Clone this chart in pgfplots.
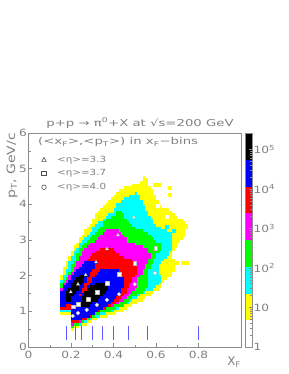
\documentclass[border=0pt]{standalone}
\usepackage{pgfplots}
\usepackage{pgfplotstable}
\pgfplotsset{compat=1.18}
\usepackage{fontspec}
\setmainfont{DejaVu Sans}
\newfontfamily\wa[FakeStretch=1.22]{DejaVu Sans}
\newfontfamily\wb[FakeStretch=1.4]{DejaVu Sans}
\definecolor{txt}{gray}{0.5}
\definecolor{frm}{gray}{0.55}
\definecolor{tickblue}{RGB}{90,90,255}
\definecolor{hy}{RGB}{255,255,0}
\definecolor{hc}{RGB}{0,255,255}
\definecolor{hg}{RGB}{0,255,0}
\definecolor{hm}{RGB}{255,0,255}
\definecolor{hr}{RGB}{255,0,0}
\definecolor{hb}{RGB}{0,0,255}
\pgfplotstableread{
y a b
0.45 0.2 0.2125
0.525 0.2 0.2375
0.6 0.2 0.275
0.675 0.2 0.3
0.75 0.2 0.325
0.825 0.2 0.375
0.9 0.15 0.4125
0.975 0.15 0.45
1.05 0.15 0.4625
1.125 0.15 0.4875
1.2 0.15 0.5125
1.275 0.15 0.5375
1.35 0.15 0.55
1.425 0.15 0.575
1.5 0.15 0.5875
1.575 0.15 0.6125
1.65 0.15 0.625
1.725 0.15 0.625
1.8 0.15 0.6375
1.875 0.15 0.65
1.95 0.15 0.675
2.025 0.1625 0.675
2.1 0.1625 0.6875
2.175 0.1625 0.6875
2.25 0.175 0.6875
2.325 0.175 0.6875
2.4 0.1875 0.6875
2.475 0.1875 0.675
2.55 0.2 0.675
2.625 0.2 0.675
2.7 0.2125 0.6875
2.775 0.2125 0.7
2.85 0.225 0.7
2.925 0.2375 0.7125
3.0 0.2375 0.725
3.075 0.25 0.7375
3.15 0.2625 0.7375
3.225 0.2625 0.7375
3.3 0.275 0.75
3.375 0.2875 0.75
3.45 0.3 0.7375
3.525 0.3 0.725
3.6 0.3125 0.7
3.675 0.3125 0.6875
3.75 0.325 0.675
3.825 0.3375 0.6625
3.9 0.35 0.625
3.975 0.3625 0.6125
4.05 0.375 0.6125
4.125 0.3875 0.6
4.2 0.4 0.6
4.275 0.4125 0.5875
4.35 0.425 0.5875
4.425 0.45 0.575
4.5 0.4875 0.5625
4.575 0.525 0.5625
4.65 0.5375 0.5625
4.725 0.5375 0.55
}\tabY
\pgfplotstableread{
y a b
0.525 0.2 0.2125
0.6 0.2 0.25
0.675 0.2 0.275
0.75 0.2 0.3
0.825 0.2 0.3375
0.9 0.2 0.3625
0.975 0.15 0.4
1.05 0.15 0.425
1.125 0.15 0.45
1.2 0.15 0.475
1.275 0.15 0.4875
1.35 0.15 0.5125
1.425 0.15 0.525
1.5 0.15 0.55
1.575 0.15 0.5875
1.65 0.15 0.6
1.725 0.15 0.6125
1.8 0.15 0.625
1.875 0.1625 0.625
1.95 0.1625 0.625
2.025 0.175 0.6125
2.1 0.175 0.6125
2.175 0.1875 0.6125
2.25 0.1875 0.6125
2.325 0.1875 0.625
2.4 0.2 0.6375
2.475 0.2 0.65
2.55 0.2125 0.6625
2.625 0.2125 0.6625
2.7 0.225 0.675
2.775 0.2375 0.675
2.85 0.2375 0.675
2.925 0.25 0.675
3.0 0.2625 0.675
3.075 0.275 0.675
3.15 0.2875 0.675
3.225 0.3 0.65
3.3 0.3 0.625
3.375 0.3125 0.6
3.45 0.325 0.5875
3.525 0.35 0.5875
3.6 0.3625 0.575
3.675 0.375 0.5625
3.75 0.4 0.5625
3.825 0.4 0.55
3.9 0.4125 0.55
3.975 0.4125 0.5375
4.05 0.4375 0.5375
4.125 0.45 0.525
4.2 0.475 0.525
4.275 0.5 0.5125
}\tabC
\pgfplotstableread{
y a b
0.525 0.2 0.2125
0.6 0.2 0.2375
0.675 0.2 0.2625
0.75 0.2 0.2875
0.825 0.2 0.3125
0.9 0.2 0.3375
0.975 0.2 0.3875
1.05 0.15 0.4125
1.125 0.15 0.45
1.2 0.15 0.4625
1.275 0.15 0.475
1.35 0.15 0.4875
1.425 0.15 0.5125
1.5 0.15 0.5375
1.575 0.15 0.55
1.65 0.15 0.5625
1.725 0.15 0.5625
1.8 0.1625 0.5625
1.875 0.175 0.5625
1.95 0.1875 0.5625
2.025 0.1875 0.5625
2.1 0.2 0.5625
2.175 0.2 0.575
2.25 0.2 0.575
2.325 0.2125 0.5875
2.4 0.225 0.5875
2.475 0.225 0.6
2.55 0.225 0.6
2.625 0.2375 0.6125
2.7 0.2375 0.625
2.775 0.25 0.625
2.85 0.2625 0.625
2.925 0.275 0.6
3.0 0.2875 0.5875
3.075 0.3 0.575
3.15 0.3125 0.5625
3.225 0.325 0.5375
3.3 0.3375 0.5
3.375 0.35 0.4875
3.45 0.35 0.475
3.525 0.3625 0.4625
3.6 0.3875 0.45
3.675 0.4125 0.45
3.75 0.4125 0.4375
}\tabG
\pgfplotstableread{
y a b
0.6 0.2 0.2125
0.675 0.2 0.25
0.75 0.2 0.2625
0.825 0.2 0.2875
0.9 0.2 0.3125
0.975 0.2 0.3375
1.05 0.15 0.3625
1.125 0.15 0.4
1.2 0.15 0.425
1.275 0.15 0.45
1.35 0.15 0.4625
1.425 0.15 0.475
1.5 0.15 0.4875
1.575 0.15 0.5
1.65 0.1625 0.5125
1.725 0.1625 0.5125
1.8 0.175 0.5125
1.875 0.1875 0.5125
1.95 0.1875 0.525
2.025 0.2 0.5375
2.1 0.2125 0.5375
2.175 0.2125 0.55
2.25 0.225 0.55
2.325 0.225 0.5625
2.4 0.2375 0.5625
2.475 0.2375 0.575
2.55 0.25 0.575
2.625 0.25 0.5625
2.7 0.2625 0.5625
2.775 0.275 0.5375
2.85 0.2875 0.5
2.925 0.3125 0.4625
3.0 0.325 0.4625
3.075 0.3375 0.45
3.15 0.35 0.4375
3.225 0.3625 0.425
}\tabM
\pgfplotstableread{
y a b
0.675 0.2 0.2375
0.75 0.2 0.275
0.825 0.2 0.3
0.9 0.2 0.3125
0.975 0.2 0.3375
1.05 0.15 0.3625
1.125 0.15 0.3875
1.2 0.15 0.4125
1.275 0.15 0.425
1.35 0.15 0.4375
1.425 0.15 0.45
1.5 0.1625 0.4625
1.575 0.175 0.4625
1.65 0.175 0.475
1.725 0.1875 0.475
1.8 0.1875 0.4875
1.875 0.2 0.4875
1.95 0.2125 0.5
2.025 0.2125 0.5125
2.1 0.225 0.5125
2.175 0.2375 0.5125
2.25 0.25 0.5125
2.325 0.2625 0.5125
2.4 0.275 0.4875
2.475 0.2875 0.45
2.55 0.3 0.425
2.625 0.3125 0.4125
2.7 0.3375 0.4
}\tabR
\pgfplotstableread{
y a b
1.125 0.15 0.175
1.2 0.15 0.2125
1.275 0.15 0.225
1.35 0.15 0.2375
1.425 0.15 0.2375
1.5 0.15 0.25
1.575 0.1625 0.25
1.65 0.1625 0.2625
1.725 0.175 0.2625
1.8 0.1875 0.275
1.875 0.2 0.275
1.95 0.2 0.2875
2.025 0.2125 0.2875
2.1 0.225 0.3
2.175 0.2375 0.3125
2.25 0.25 0.3125
2.325 0.2625 0.325
}\tabBa
\pgfplotstableread{
y a b
0.75 0.2 0.25
0.825 0.2 0.2875
0.9 0.2 0.3125
0.975 0.2 0.325
1.05 0.2 0.35
1.125 0.2 0.375
1.2 0.2125 0.3875
1.275 0.225 0.4
1.35 0.2375 0.4125
1.425 0.25 0.425
1.5 0.2625 0.4375
1.575 0.275 0.4375
1.65 0.275 0.45
1.725 0.2875 0.45
1.8 0.3 0.45
1.875 0.3 0.45
1.95 0.3125 0.4375
2.025 0.325 0.425
2.1 0.3375 0.425
}\tabBb
\pgfplotstableread{
y a b
1.275 0.175 0.2
1.35 0.175 0.2
1.425 0.175 0.2125
1.5 0.175 0.225
1.575 0.1875 0.2375
1.65 0.2 0.2375
1.725 0.2 0.25
1.8 0.2125 0.2625
1.875 0.225 0.2625
1.95 0.2375 0.275
}\tabKa
\pgfplotstableread{
y a b
1.125 0.2375 0.2875
1.2 0.2375 0.3
1.275 0.25 0.325
1.35 0.25 0.3375
1.425 0.2625 0.35
1.5 0.2625 0.3625
1.575 0.275 0.375
1.65 0.2875 0.375
1.725 0.3125 0.375
}\tabKb
\newcommand{\cells}[2]{\addplot[draw=none,mark=none,error bars/.cd,x dir=both,x explicit,error mark=none,error bar style={draw=#2,line width=2.72bp,line cap=butt}] table[y expr=\thisrow{y}+0.0375,x expr=(\thisrow{a}+\thisrow{b})/2,x error expr=(\thisrow{b}-\thisrow{a})/2] {#1};}
\pgfplotsset{
  rootstyle/.style={
    scale only axis,
    axis line style={frm,line width=0.7bp},
    tick style={frm,line width=0.5bp},
    tick align=inside,
    major tick length=3.5bp,
    minor tick length=2bp,
    ticklabel style={font=\wa\fontsize{10}{11}\selectfont,text=txt},
    /pgf/number format/assume math mode=true,
  },
  wm/.style={only marks,mark options={fill=white,draw=gray!55,line width=0.4bp},mark size=#1},
}
\begin{document}
\begin{tikzpicture}[x=1bp,y=1bp]
\useasboundingbox (0,0) rectangle (289,374);
\begin{axis}[rootstyle,
  at={(28.5bp,27bp)},anchor=south west,
  width=212.5bp,height=214bp,
  xmin=0,xmax=1,ymin=0,ymax=6,
  xtick={0,0.2,0.4,0.6,0.8},
  xticklabels={0,0.2,0.4,0.6,0.8},
  ytick={0,1,2,3,4,5,6},
  minor x tick num=1,minor y tick num=1,
  xtick pos=bottom,ytick pos=left,
  tick label style={inner sep=1.5bp},
  x tick label style={yshift=-2bp},
]
\cells{\tabY}{hy}
\addplot[only marks,mark=square*,mark size=1.3bp,mark options={fill=hy,draw=hy,line width=0pt}] coordinates {
(0.70,2.35)(0.727,2.35)(0.746,2.35)(0.595,4.54)(0.614,4.54)(0.666,4.45)(0.666,4.26)};
\addplot[only marks,mark=square*,mark size=1.3bp,mark options={fill=white,draw=white,line width=0pt}] coordinates {
(0.609,3.95)(0.652,3.64)};
\addplot[only marks,mark=square*,mark size=1.3bp,mark options={fill=hc,draw=hc,line width=0pt}] coordinates {
(0.652,3.36)(0.685,3.25)};
\cells{\tabC}{hc}
\cells{\tabG}{hg}
\cells{\tabM}{hm}
\cells{\tabR}{hr}
\cells{\tabBa}{hb}
\cells{\tabBb}{hb}
\cells{\tabKa}{black}
\cells{\tabKb}{black}
\addplot[tickblue,line width=0.8bp,unbounded coords=jump] coordinates {
(0.18,0.2)(0.18,0.6)(nan,nan)(0.22,0.2)(0.22,0.6)(nan,nan)(0.25,0.2)(0.25,0.6)(nan,nan)
(0.30,0.2)(0.30,0.6)(nan,nan)(0.35,0.2)(0.35,0.6)(nan,nan)(0.40,0.2)(0.40,0.6)(nan,nan)
(0.47,0.2)(0.47,0.6)(nan,nan)(0.56,0.2)(0.56,0.6)(nan,nan)(0.80,0.2)(0.80,0.6)};
\addplot[wm=1.8bp,mark=triangle*] coordinates {
(0.199,1.54)(0.233,1.76)(0.269,2.02)(0.318,2.38)(0.369,2.75)(0.421,3.14)(0.496,3.64)};
\addplot[wm=1.9bp,mark=square*] coordinates {
(0.209,1.13)(0.233,1.2)(0.28,1.34)(0.322,1.54)(0.369,1.79)(0.426,2.04)(0.5,2.35)(0.599,2.77)};
\addplot[wm=1.9bp,mark=*] coordinates {
(0.208,0.87)(0.233,0.95)(0.274,1.04)(0.322,1.18)(0.369,1.32)(0.426,1.48)(0.5,1.76)(0.595,2.07)};
\addplot[only marks,mark=triangle,mark size=2.6bp,mark options={draw=black!70,line width=0.6bp}] coordinates {(0.073,5.24)};
\addplot[only marks,mark=square,mark size=2.3bp,mark options={draw=black!70,line width=0.6bp}] coordinates {(0.073,4.87)};
\addplot[only marks,mark=o,mark size=2.3bp,mark options={draw=black!70,line width=0.6bp}] coordinates {(0.073,4.48)};
\end{axis}
\begin{axis}[rootstyle,
  at={(245bp,27bp)},anchor=south west,
  width=7bp,height=214bp,
  xmin=0,xmax=1,ymode=log,ymin=1,ymax=263000,
  xtick=\empty,
  ytick={1,10,100,1000,10000,100000},
  yticklabels={1,10,10\textsuperscript{2},10\textsuperscript{3},10\textsuperscript{4},10\textsuperscript{5}},
  ytick pos=right,yticklabel pos=right,
  tick label style={inner sep=1.5bp},
  axis on top,
]
\addplot[fill=hy,draw=none] coordinates {(0,4.76)(1,4.76)(1,22.6)(0,22.6)} -- cycle;
\addplot[fill=hc,draw=none] coordinates {(0,22.6)(1,22.6)(1,107.6)(0,107.6)} -- cycle;
\addplot[fill=hg,draw=none] coordinates {(0,107.6)(1,107.6)(1,512)(0,512)} -- cycle;
\addplot[fill=hm,draw=none] coordinates {(0,512)(1,512)(1,2438)(0,2438)} -- cycle;
\addplot[fill=hr,draw=none] coordinates {(0,2438)(1,2438)(1,11610)(0,11610)} -- cycle;
\addplot[fill=hb,draw=none] coordinates {(0,11610)(1,11610)(1,55270)(0,55270)} -- cycle;
\addplot[fill=black,draw=none] coordinates {(0,55270)(1,55270)(1,263000)(0,263000)} -- cycle;
\end{axis}
\begin{scope}[every node/.style={text=txt,inner sep=0pt}]
\node[anchor=center] at (140,251) {\wb\fontsize{9.5}{10}\selectfont p+p → π\textsuperscript{0}+X at √s=200 GeV};
\node[anchor=west] at (38,232) {\wb\fontsize{9.5}{10}\selectfont (<x\textsubscript{F}>,<p\textsubscript{T}>) in x\textsubscript{F}−bins};
\node[anchor=west] at (57,214) {\wa\fontsize{8.5}{10}\selectfont <η>=3.3};
\node[anchor=west] at (57,201) {\wa\fontsize{8.5}{10}\selectfont <η>=3.7};
\node[anchor=west] at (57,187) {\wa\fontsize{8.5}{10}\selectfont <η>=4.0};
\node[rotate=90,anchor=east] at (12,241) {\wa\fontsize{11.5}{12}\selectfont p\textsubscript{T}, GeV/c};
\node[anchor=center] at (234,12) {\fontsize{12}{12}\selectfont X\textsubscript{F}};
\end{scope}
\end{tikzpicture}
\end{document}
